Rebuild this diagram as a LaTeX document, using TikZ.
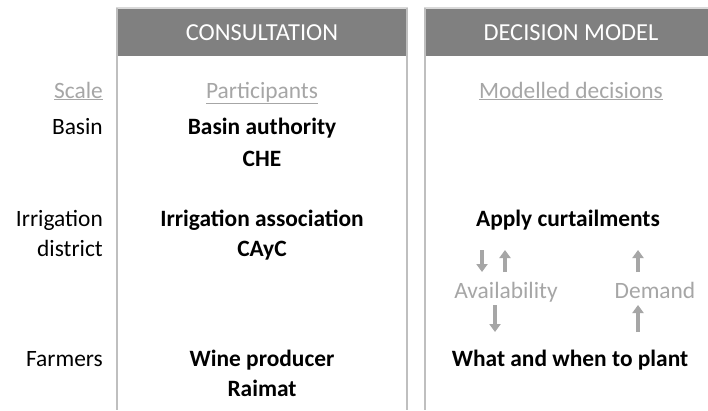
\documentclass[tikz,border=0pt]{standalone}
\usepackage{fontspec}
\setmainfont{Carlito}
\usetikzlibrary{arrows.meta}
\definecolor{hdrgray}{HTML}{808080}
\definecolor{rulegray}{HTML}{BFBFBF}
\definecolor{topgray}{HTML}{D9D9D9}
\definecolor{txtgray}{HTML}{A6A6A6}
\newcommand{\fsz}{\fontsize{23.5}{30}\selectfont}
\newcommand{\hsz}{\fontsize{24.5}{30}\selectfont}

\begin{document}
\begin{tikzpicture}[x=1bp,y=-1bp,
   txt/.style={font=\fsz,inner sep=0pt,anchor=base},
   hdr/.style={txt,font=\hsz,white},
   sub/.style={txt,txtgray},
   key/.style={txt,font=\fsz\bfseries},
   flow/.style={txtgray,line width=4.5bp,-{Triangle[width=11bp,length=8bp]}}]
   \clip (0,0) rectangle (708,410);
   \fill[white] (0,0) rectangle (708,410);
   % columns
   \fill[hdrgray] (118,9) rectangle (406,56);
   \fill[hdrgray] (426,9) rectangle (720,56);
   \draw[topgray,line width=2bp] (116,8) -- (408,8);
   \draw[topgray,line width=2bp] (424,8) -- (720,8);
   \draw[rulegray,line width=2bp] (117,8) -- (117,410);
   \draw[rulegray,line width=2bp] (407,8) -- (407,410);
   \draw[rulegray,line width=2bp] (425,8) -- (425,410);
   % headers
   \node[hdr] (cons) at (262,40) {CONSULTATION};
   \node[hdr] (dec)  at (571,40) {DECISION MODEL};
   \node[sub,anchor=base east] (scale) at (103,98) {\underline{Scale}};
   \node[sub] (part) at (262,98) {\underline{Participants}};
   \node[sub] (mdec) at (571,98) {\underline{Modelled decisions}};
   % scales
   \node[txt,anchor=base east] (basin) at (103,134) {Basin};
   \node[txt,anchor=base east] (irr)   at (103,226) {Irrigation};
   \node[txt,anchor=base east] (dist)  at (103,256) {district};
   \node[txt,anchor=base east] (farm)  at (103,366) {Farmers};
   % participants
   \node[key] (auth) at (262,134) {Basin authority};
   \node[key] (che)  at (262,166) {CHE};
   \node[key] (assoc) at (262,226) {Irrigation association};
   \node[key] (cayc) at (262,256) {CAyC};
   \node[key] (wine) at (262,366) {Wine producer};
   \node[key] (raim) at (262,396) {Raimat};
   % decisions
   \node[key] (curt)  at (568,226) {Apply curtailments};
   \node[sub] (avail) at (506,298) {Availability};
   \node[sub] (dem)   at (655,298) {Demand};
   \node[key] (plant) at (570,366) {What and when to plant};
   \coordinate (a1) at (482,250);
   \coordinate (a2) at (482,272);
   \coordinate (b1) at (505,272);
   \coordinate (b2) at (505,250);
   \coordinate (c1) at (638,272);
   \coordinate (c2) at (638,250);
   \coordinate (d1) at (495,305);
   \coordinate (d2) at (495,332);
   \coordinate (e1) at (638,332);
   \coordinate (e2) at (638,305);
   \draw[flow] (a1) -- (a2);
   \draw[flow] (b1) -- (b2);
   \draw[flow] (c1) -- (c2);
   \draw[flow] (d1) -- (d2);
   \draw[flow] (e1) -- (e2);
\end{tikzpicture}
\end{document}
